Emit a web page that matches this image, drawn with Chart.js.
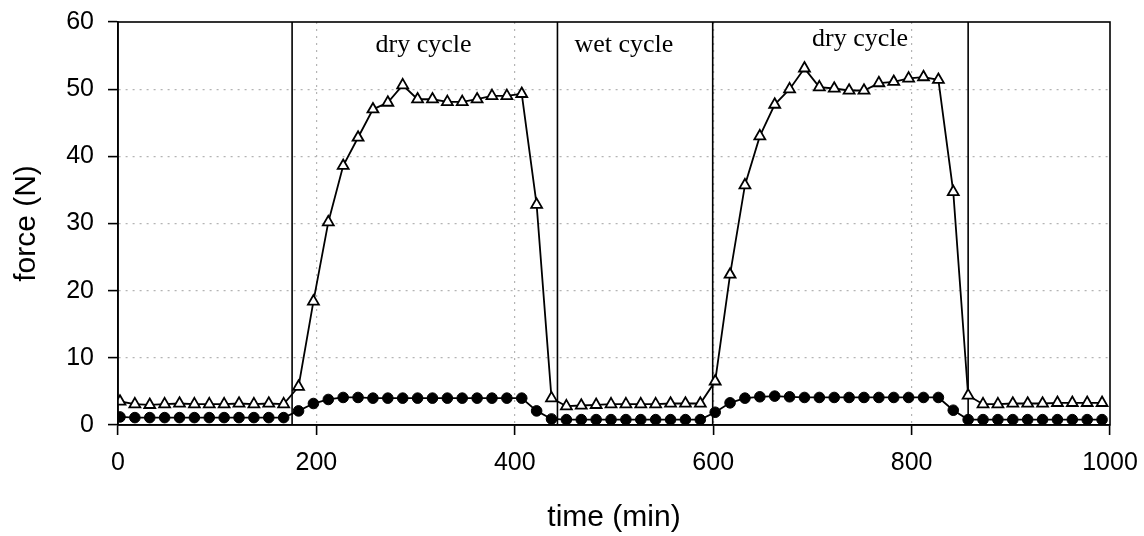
<!DOCTYPE html>
<html>
<head>
<meta charset="utf-8">
<script src="https://cdn.jsdelivr.net/npm/chart.js@4/dist/chart.umd.min.js"></script>
<style>
  html, body { margin:0; padding:0; background:#fff; }
  #wrap { width:1144px; height:536px; }
</style>
</head>
<body>
<div id="wrap"><canvas id="c" width="1144" height="536"></canvas></div>
<script>
// sampling times (min)
const times = [2,17,32,47,62,77,92,107,122,137,152,167,182,197,212,227,242,257,272,287,
  302,317,332,347,362,377,392,407,422,437,452,467,482,497,512,527,542,557,572,587,
  602,617,632,647,662,677,692,707,722,737,752,767,782,797,812,827,842,857,872,887,
  902,917,932,947,962,977,992];

// open triangles
const forceTri = [3.5,3.1,3.0,3.1,3.2,3.1,3.1,3.1,3.2,3.1,3.2,3.1,
  5.7,18.4,30.2,38.6,42.8,47.0,48.0,50.6,48.5,48.5,48.1,48.1,48.5,49.0,49.0,49.3,32.8,4.0,
  2.8,2.9,3.0,3.1,3.1,3.1,3.1,3.2,3.2,3.2,
  6.5,22.4,35.7,43.0,47.7,50.0,53.1,50.3,50.1,49.8,49.8,50.9,51.1,51.6,51.8,51.4,34.7,4.4,
  3.1,3.1,3.2,3.2,3.2,3.3,3.3,3.3,3.3];

// filled circles
const forceDot = [1.2,1.1,1.1,1.1,1.1,1.1,1.1,1.1,1.1,1.1,1.1,1.1,
  2.1,3.2,3.8,4.1,4.1,4.0,4.0,4.0,4.0,4.0,4.0,4.0,4.0,4.0,4.0,4.0,2.1,0.9,
  0.8,0.8,0.8,0.8,0.8,0.8,0.8,0.8,0.8,0.8,
  1.9,3.3,4.0,4.2,4.3,4.2,4.1,4.1,4.1,4.1,4.1,4.1,4.1,4.1,4.1,4.1,2.2,
  0.8,0.8,0.8,0.8,0.8,0.8,0.8,0.8,0.8,0.8];

// cycle boundaries (min)
const cycleEdges = [175.5, 443, 599.5, 857];

// cycle captions
const captionText = ['dry cycle','wet cycle','dry cycle'];
const captionX = [308, 510, 748];
const captionY = [55.5, 55.5, 56.5];

const xTicks = [0,200,400,600,800,1000];
const yTicks = [0,10,20,30,40,50,60];

const pts = (ys) => times.map((t,i)=>({x:t, y:ys[i]}));

const edgeSets = cycleEdges.map(e=>({
  data:[{x:e,y:0},{x:e,y:60}],
  borderColor:'#000', borderWidth:1.6, pointRadius:0, order:3
}));

const frame = {
  id:'frame',
  afterDatasetsDraw(chart){
    const {ctx, chartArea:a, scales:{x,y}} = chart;
    ctx.save();
    ctx.strokeStyle='#000'; ctx.lineWidth=1.6;
    ctx.strokeRect(a.left, a.top, a.right-a.left, a.bottom-a.top);
    ctx.fillStyle='#000';
    ctx.font='26px "Liberation Serif", "Times New Roman", serif';
    ctx.textAlign='center'; ctx.textBaseline='alphabetic';
    captionText.forEach((s,i)=>ctx.fillText(s, x.getPixelForValue(captionX[i]), y.getPixelForValue(captionY[i])));
    ctx.restore();
  }
};

const sans = '"Liberation Sans", Arial, Helvetica, sans-serif';
const gridColor = c => (c.index===0 || c.index===c.scale.ticks.length-1) ? 'rgba(0,0,0,0)' : '#b4b4b4';

new Chart(document.getElementById('c'), {
  type:'line',
  data:{ datasets:[
    ...edgeSets,
    { data: pts(forceTri), borderColor:'#000', borderWidth:1.8, pointStyle:'triangle',
      pointRadius:6.3, pointBackgroundColor:'#fff', pointBorderColor:'#000', pointBorderWidth:1.8, order:1 },
    { data: pts(forceDot), borderColor:'#000', borderWidth:1.8, pointStyle:'circle',
      pointRadius:5.3, pointBackgroundColor:'#000', pointBorderColor:'#000', pointBorderWidth:1, order:2 }
  ]},
  options:{
    responsive:false, animation:false, events:[],
    layout:{ padding:{ top:22, right:34, left:0, bottom:0 } },
    elements:{ line:{ tension:0 } },
    plugins:{ legend:{display:false}, tooltip:{enabled:false} },
    scales:{
      x:{ type:'linear', min:0, max:1000,
        afterBuildTicks: s => { s.ticks = xTicks.map(v=>({value:v})); },
        afterFit: s => { s.height = 111; s.paddingLeft = 0; s.paddingRight = 0; },
        grid:{ color:gridColor, lineWidth:1.2, tickLength:10, tickColor:'#000', tickWidth:1.6 },
        border:{ color:'#000', width:1.6, dash:[2,5] },
        ticks:{ color:'#000', padding:13, font:{family:sans, size:25}, maxRotation:0, callback:v=>String(v) },
        title:{ display:true, text:'time (min)', color:'#000', font:{family:sans, size:30, lineHeight:1}, padding:{top:0,bottom:3} }
      },
      y:{ type:'linear', min:0, max:60,
        afterBuildTicks: s => { s.ticks = yTicks.map(v=>({value:v})); },
        afterFit: s => { s.width = 118; s.paddingTop = 0; s.paddingBottom = 0; },
        grid:{ color:gridColor, lineWidth:1.2, tickLength:10, tickColor:'#000', tickWidth:1.6 },
        border:{ color:'#000', width:1.6, dash:[2,5] },
        ticks:{ color:'#000', padding:14, font:{family:sans, size:25}, callback:v=>String(v) },
        title:{ display:true, text:'force (N)', color:'#000', font:{family:sans, size:30, lineHeight:1}, padding:{top:12,bottom:0} }
      }
    }
  },
  plugins:[frame]
});
</script>
</body>
</html>
